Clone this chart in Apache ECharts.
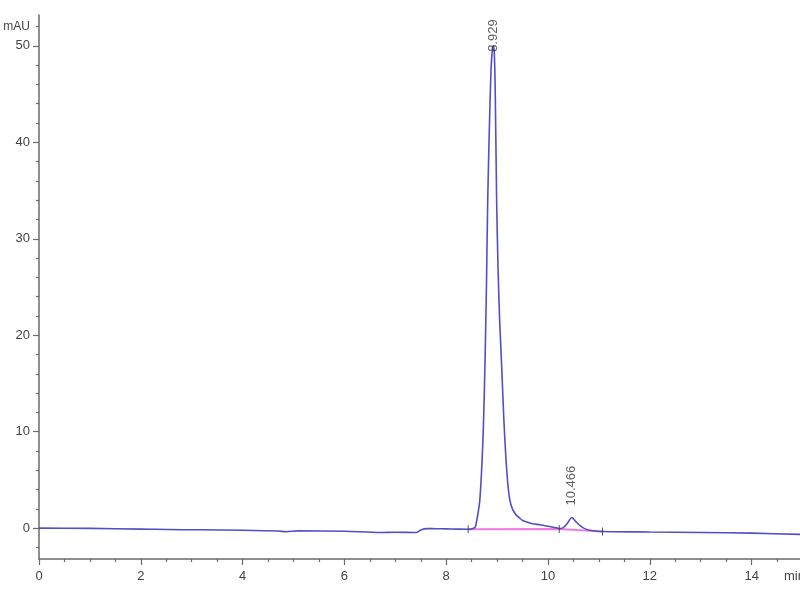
<!DOCTYPE html>
<html>
<head>
<meta charset="utf-8">
<script src="https://cdn.jsdelivr.net/npm/echarts@6/dist/echarts.min.js"></script>
<style>html,body{margin:0;padding:0;background:#fff}#c{width:800px;height:600px}</style>
</head>
<body>
<div id="c"></div>
<script>
// Retention time (min) and signal (mAU)
const times = [0, 1, 2, 3, 3.16, 4, 4.7, 4.85, 5.1, 6, 6.7, 7.0, 7.41, 7.5, 7.62, 7.8, 8.0, 8.2, 8.4, 8.45, 8.52, 8.57, 8.6, 8.63, 8.66, 8.7, 8.73, 8.76, 8.79, 8.815, 8.85, 8.88, 8.91, 8.925, 8.945, 8.965, 8.99, 9.02, 9.05, 9.09, 9.13, 9.17, 9.21, 9.25, 9.3, 9.37, 9.45, 9.5, 9.6, 9.7, 9.84, 10.0, 10.18, 10.22, 10.3, 10.38, 10.466, 10.55, 10.63, 10.72, 10.85, 11.07, 12, 13, 14, 14.95];
const signal = [0, -0.03, -0.1, -0.17, -0.17, -0.22, -0.3, -0.38, -0.28, -0.32, -0.45, -0.42, -0.45, -0.2, -0.05, -0.06, -0.08, -0.1, -0.12, -0.12, -0.05, 0.1, 0.8, 1.7, 2.9, 6.5, 10.5, 16.7, 25, 34, 42, 47.5, 49.8, 50.0, 49.2, 44.5, 34, 26.5, 21.5, 16.7, 11.5, 7.5, 4.6, 2.9, 2.0, 1.4, 1.0, 0.8, 0.6, 0.45, 0.35, 0.2, 0.02, -0.05, 0.05, 0.5, 1.1, 0.65, 0.25, -0.05, -0.25, -0.35, -0.4, -0.45, -0.52, -0.65];

// Integration baseline (peak start / valley / end)
const baseTimes = [8.43, 10.22, 11.07];
const baseValues = [-0.12, -0.1, -0.35];

// Peak labels
const peakTimes = [8.929, 10.466];
const peakHeights = [50.0, 1.1];
const peakLabels = ['8.929', '10.466'];

// Axis ticks
const xTicks = [0, 2, 4, 6, 8, 10, 12, 14];
const xMinor = [0.5, 1, 1.5, 2.5, 3, 3.5, 4.5, 5, 5.5, 6.5, 7, 7.5, 8.5, 9, 9.5, 10.5, 11, 11.5, 12.5, 13, 13.5, 14.5];
const yTicks = [0, 10, 20, 30, 40, 50];
const yMinor = [-2, 2, 4, 6, 8, 12, 14, 16, 18, 22, 24, 26, 28, 32, 34, 36, 38, 42, 44, 46, 48, 52];
const yUnit = 'mAU';
const xUnit = 'min';

const axisColor = '#6a6a6a';
const textColor = '#444';
const font = 'Liberation Sans, Arial, sans-serif';

const chart = echarts.init(document.getElementById('c'), null, {renderer: 'canvas'});

const xBase = {type: 'value', min: 0, max: 14.95, gridIndex: 0, splitLine: {show: false}};
const yBase = {type: 'value', min: -3.2, max: 53.2, gridIndex: 0, splitLine: {show: false}};

chart.setOption({
  animation: false,
  backgroundColor: '#fff',
  grid: {left: 39, right: 0, top: 15, bottom: 41, containLabel: false, outerBoundsMode: 'none'},
  xAxis: [
    Object.assign({}, xBase, {
      position: 'bottom',
      axisLine: {show: true, onZero: false, lineStyle: {color: axisColor, width: 1.5}},
      axisTick: {show: true, customValues: xTicks, length: 6, lineStyle: {color: axisColor, width: 1.2}},
      axisLabel: {show: true, customValues: xTicks, color: textColor, fontSize: 13, fontFamily: font, margin: 11},
      name: xUnit, nameLocation: 'end', nameGap: -16,
      nameTextStyle: {color: textColor, fontSize: 13, fontFamily: font, align: 'left', verticalAlign: 'top', padding: [11, 0, 0, 0]}
    }),
    Object.assign({}, xBase, {
      position: 'bottom',
      axisLine: {show: false, onZero: false},
      axisTick: {show: true, customValues: xMinor, length: 3, lineStyle: {color: axisColor, width: 1.2}},
      axisLabel: {show: false}
    })
  ],
  yAxis: [
    Object.assign({}, yBase, {
      position: 'left',
      axisLine: {show: true, onZero: false, lineStyle: {color: axisColor, width: 1.5}},
      axisTick: {show: true, customValues: yTicks, length: 6, lineStyle: {color: axisColor, width: 1.2}},
      axisLabel: {show: true, customValues: yTicks, color: textColor, fontSize: 13, fontFamily: font, margin: 9}
    }),
    Object.assign({}, yBase, {
      position: 'left',
      axisLine: {show: false, onZero: false},
      axisTick: {show: true, customValues: yMinor, length: 3, lineStyle: {color: axisColor, width: 1.2}},
      axisLabel: {show: true, customValues: [yMinor[yMinor.length - 1]], formatter: () => yUnit,
                  color: textColor, fontSize: 12, fontFamily: font, margin: 9}
    })
  ],
  series: [
    {
      type: 'line', xAxisIndex: 0, yAxisIndex: 0,
      data: times.map((t, i) => [t, signal[i]]),
      showSymbol: false, smooth: 0.25,
      lineStyle: {color: '#4f4fc8', width: 1.6},
      z: 3
    },
    {
      type: 'line', xAxisIndex: 0, yAxisIndex: 0,
      data: baseTimes.map((t, i) => [t, baseValues[i]]),
      showSymbol: false,
      lineStyle: {color: '#f07ce0', width: 2},
      z: 2
    },
    {
      type: 'scatter', xAxisIndex: 0, yAxisIndex: 0,
      data: baseTimes.map((t, i) => [t, baseValues[i]]),
      symbol: 'rect', symbolSize: [1, 8],
      itemStyle: {color: '#333'},
      z: 4
    },
    {
      type: 'scatter', xAxisIndex: 0, yAxisIndex: 0,
      data: peakTimes.map((t, i) => ({
        value: [t, peakHeights[i]],
        label: {distance: i === 0 ? -6 : 12}
      })),
      symbolSize: 0,
      label: {
        show: true, position: 'top', rotate: 90, align: 'left', verticalAlign: 'middle',
        formatter: p => peakLabels[p.dataIndex],
        color: '#333', fontSize: 13, fontFamily: font
      },
      z: 5
    }
  ]
});
</script>
</body>
</html>
